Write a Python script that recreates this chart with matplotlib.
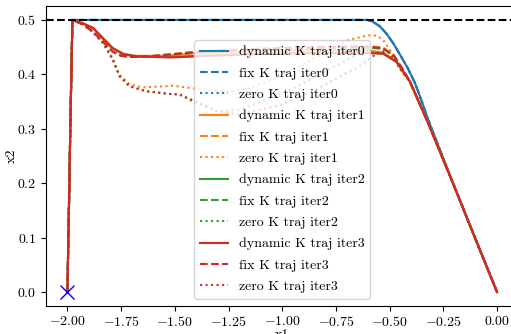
import numpy as np
import matplotlib.pyplot as plt

plt.rcParams["font.family"] = ["cmr10", "DejaVu Serif"]
plt.rcParams["mathtext.fontset"] = "cm"
plt.rcParams["axes.formatter.use_mathtext"] = True
plt.rcParams["font.size"] = 10

# tramo inicial comun (subida casi vertical desde el punto inicial)
rise_x = [-2.0, -1.996, -1.991, -1.987, -1.982, -1.977]
rise_y = [0.0, 0.1, 0.2, 0.3, 0.4, 0.5]

# tramo final comun (bajada hacia el origen)
desc_x = [-0.406, -0.32, -0.2, -0.1, 0.0]
desc_y = [0.387, 0.31, 0.195, 0.097, 0.0]

# iter0: las tres trayectorias coinciden
iter0_x = [-1.9, -1.0, -0.6, -0.575, -0.545, -0.515, -0.483, -0.45, -0.415, -0.382, -0.35, -0.32, -0.2, -0.1, 0.0]
iter0_y = [0.5, 0.5, 0.5, 0.496, 0.488, 0.475, 0.457, 0.435, 0.411, 0.384, 0.350, 0.316, 0.195, 0.097, 0.0]

dyn1_x = [-1.93, -1.88, -1.835, -1.79, -1.74, -1.68, -1.55, -1.4, -1.2, -1.0, -0.8, -0.6, -0.53, -0.468]
dyn1_y = [0.494, 0.485, 0.467, 0.449, 0.438, 0.434, 0.434, 0.439, 0.442, 0.444, 0.445, 0.444, 0.440, 0.424]
dyn2_x = [-1.93, -1.88, -1.835, -1.79, -1.74, -1.68, -1.52, -1.4, -1.2, -1.0, -0.8, -0.59, -0.53, -0.468]
dyn2_y = [0.494, 0.485, 0.466, 0.448, 0.437, 0.433, 0.432, 0.434, 0.437, 0.439, 0.440, 0.440, 0.438, 0.423]
dyn3_x = [-1.93, -1.88, -1.835, -1.79, -1.74, -1.68, -1.52, -1.4, -1.2, -1.0, -0.8, -0.59, -0.53, -0.468]
dyn3_y = [0.494, 0.485, 0.466, 0.448, 0.437, 0.433, 0.431, 0.433, 0.436, 0.438, 0.439, 0.439, 0.438, 0.423]

fix1_x = [-1.93, -1.88, -1.835, -1.79, -1.75, -1.7, -1.6, -1.4, -1.2, -1.0, -0.8, -0.6, -0.53, -0.48, -0.44]
fix1_y = [0.492, 0.478, 0.460, 0.442, 0.434, 0.432, 0.434, 0.442, 0.446, 0.449, 0.451, 0.452, 0.449, 0.435, 0.410]
fix2_x = [-1.93, -1.88, -1.835, -1.79, -1.75, -1.7, -1.6, -1.4, -1.2, -1.0, -0.8, -0.6, -0.53, -0.48, -0.44]
fix2_y = [0.492, 0.478, 0.460, 0.442, 0.434, 0.432, 0.433, 0.440, 0.444, 0.446, 0.448, 0.449, 0.447, 0.434, 0.410]
fix3_x = [-1.93, -1.88, -1.835, -1.79, -1.75, -1.7, -1.6, -1.4, -1.2, -1.0, -0.8, -0.6, -0.53, -0.48, -0.44]
fix3_y = [0.492, 0.478, 0.460, 0.442, 0.434, 0.432, 0.434, 0.441, 0.445, 0.448, 0.450, 0.451, 0.448, 0.434, 0.410]

zero1_x = [-1.93, -1.897, -1.835, -1.79, -1.758, -1.711, -1.65, -1.51, -1.385, -1.25, -1.15, -1.0,
           -0.85, -0.7, -0.6, -0.56, -0.53, -0.483, -0.445]
zero1_y = [0.493, 0.485, 0.460, 0.430, 0.399, 0.382, 0.376, 0.379, 0.373, 0.368, 0.375, 0.398,
           0.430, 0.462, 0.472, 0.471, 0.463, 0.436, 0.405]
zero2_x = [-1.93, -1.897, -1.835, -1.79, -1.758, -1.711, -1.633, -1.524, -1.478, -1.43, -1.3, -1.2,
           -1.12, -0.965, -0.81, -0.654, -0.59, -0.55, -0.5, -0.45]
zero2_y = [0.493, 0.484, 0.458, 0.428, 0.397, 0.378, 0.369, 0.364, 0.363, 0.353, 0.332, 0.335,
           0.347, 0.371, 0.403, 0.436, 0.448, 0.449, 0.440, 0.410]
zero3_x = [-1.93, -1.897, -1.835, -1.79, -1.758, -1.711, -1.633, -1.524, -1.478, -1.385, -1.3, -1.2,
           -1.0, -0.85, -0.75, -0.64, -0.59, -0.545, -0.5, -0.45]
zero3_y = [0.493, 0.484, 0.458, 0.428, 0.397, 0.378, 0.369, 0.364, 0.363, 0.347, 0.332, 0.326,
           0.345, 0.370, 0.392, 0.415, 0.430, 0.442, 0.440, 0.410]

colores = ["C0", "C1", "C2", "C3"]
dinamicas = [(iter0_x, iter0_y, False), (dyn1_x, dyn1_y, True), (dyn2_x, dyn2_y, True), (dyn3_x, dyn3_y, True)]
fijas = [(iter0_x, iter0_y, False), (fix1_x, fix1_y, True), (fix2_x, fix2_y, True), (fix3_x, fix3_y, True)]
ceros = [(iter0_x, iter0_y, False), (zero1_x, zero1_y, True), (zero2_x, zero2_y, True), (zero3_x, zero3_y, True)]


def armar(tramo):
    xs, ys, con_bajada = tramo
    x = rise_x + xs
    y = rise_y + ys
    if con_bajada:
        x = x + desc_x
        y = y + desc_y
    return np.array(x), np.array(y)


fig = plt.figure(figsize=(5.11, 3.34), dpi=100)
ax = fig.add_axes([46 / 511, 0.085, 472.5 / 511, 0.896])

for i in range(4):
    x, y = armar(dinamicas[i])
    ax.plot(x, y, "-", color=colores[i], label=f"dynamic K traj iter{i}")
    x, y = armar(fijas[i])
    ax.plot(x, y, "--", color=colores[i], label=f"fix K traj iter{i}")
    x, y = armar(ceros[i])
    ax.plot(x, y, ":", color=colores[i], label=f"zero K traj iter{i}")

ax.axhline(0.5, color="k", linestyle="--")
ax.plot([-2.0], [0.0], "bx", markersize=10)

ax.set_xlim(-2.1, 0.1)
ax.set_ylim(-0.025, 0.525)
ax.set_xlabel("x1", labelpad=0)
ax.set_ylabel("x2", labelpad=-1)
ax.legend(loc="lower center", labelspacing=0.62)

fig.savefig("out.png", dpi=100)
